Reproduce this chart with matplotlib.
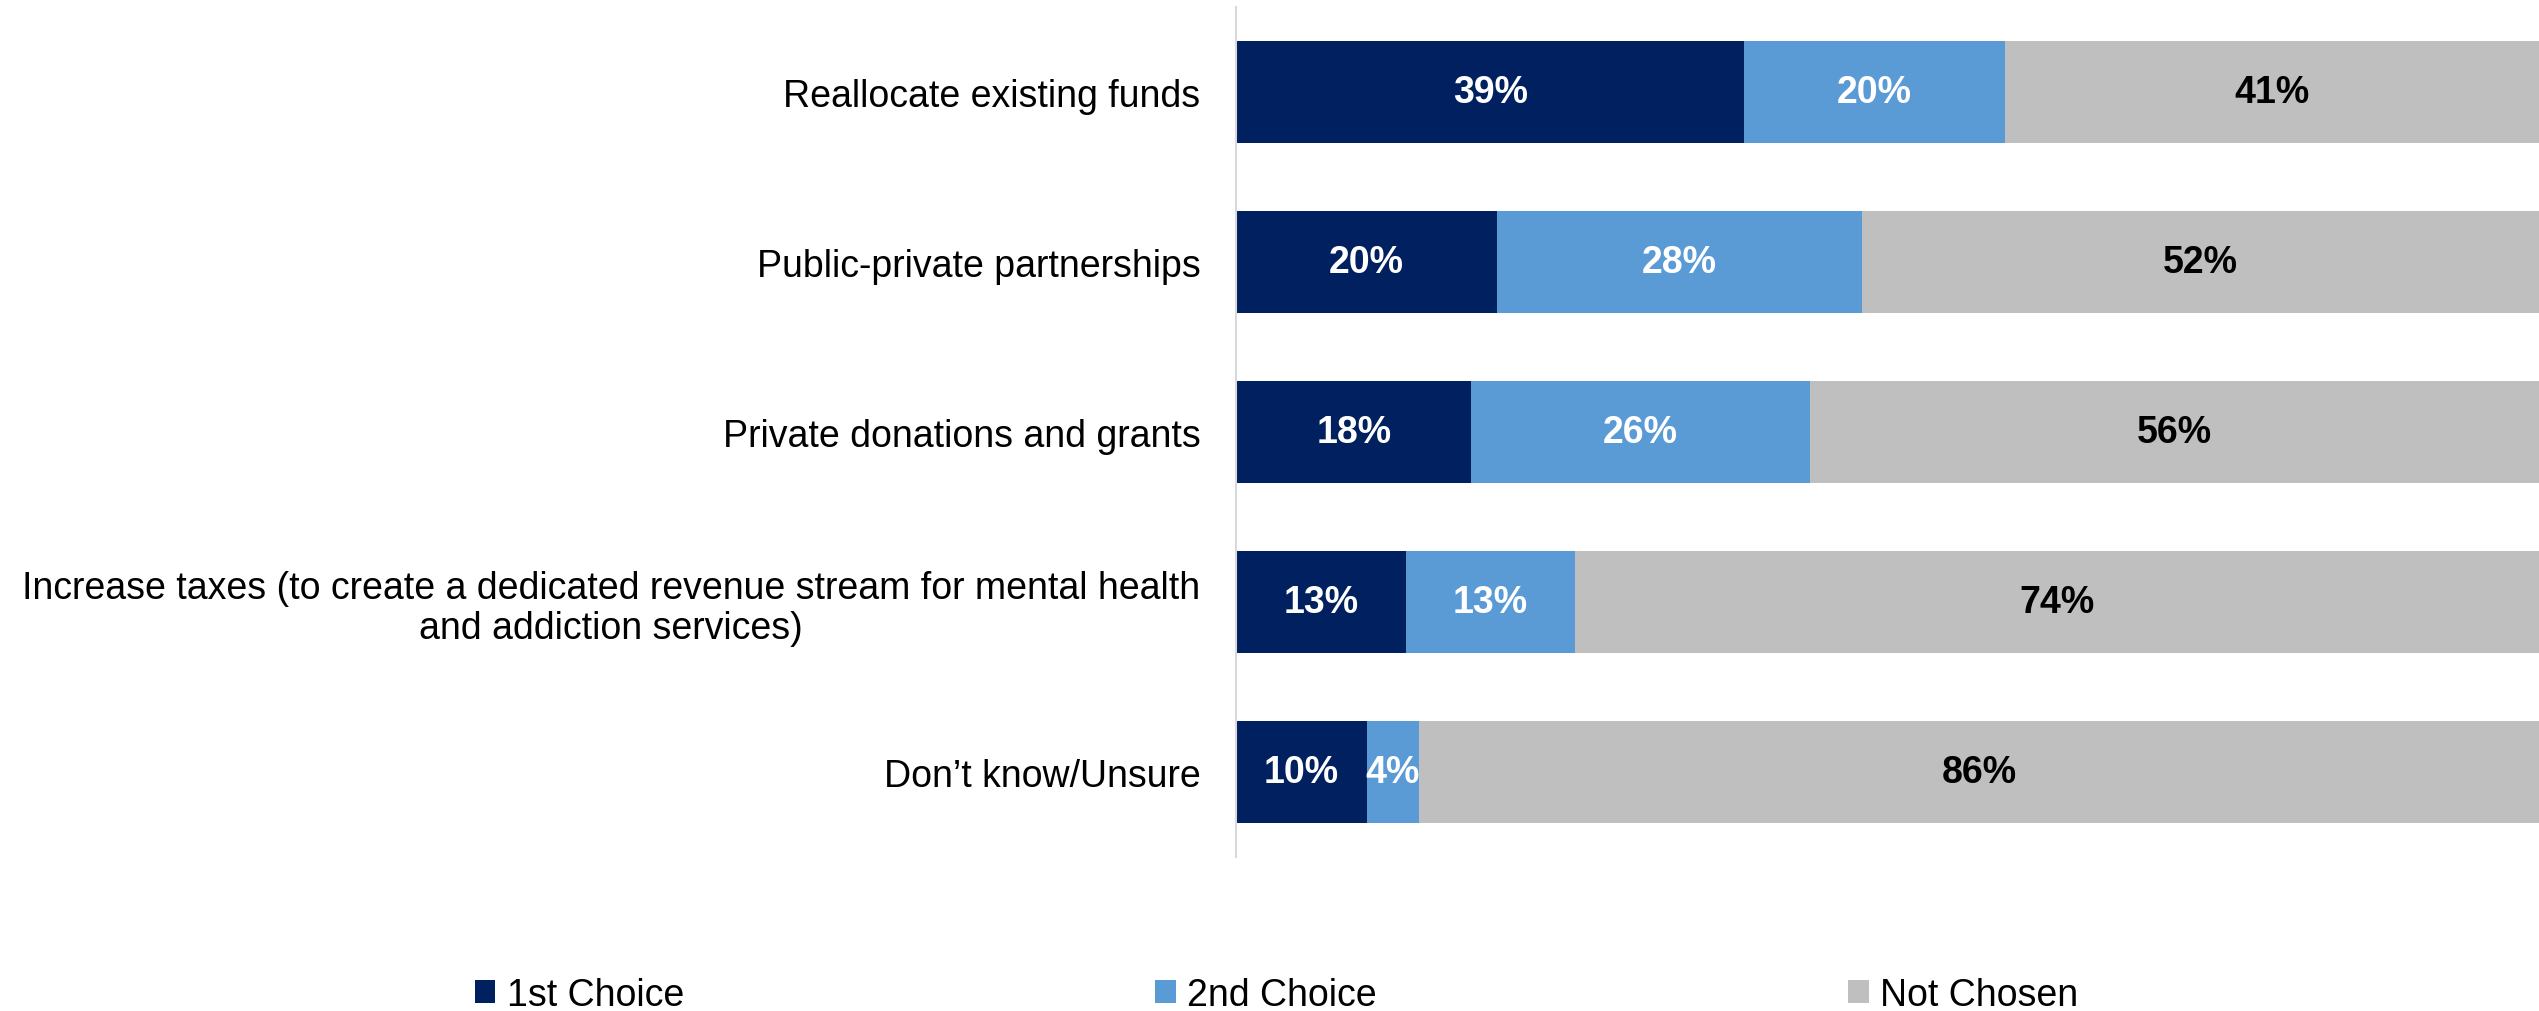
import matplotlib
matplotlib.use("Agg")
import matplotlib.pyplot as plt
from matplotlib.patches import Patch
import numpy as np

plt.rcParams['font.family'] = ['Liberation Sans', 'DejaVu Sans']

categories = [
    "Reallocate existing funds",
    "Public-private partnerships",
    "Private donations and grants",
    "Increase taxes (to create a dedicated revenue stream for mental health\nand addiction services)",
    "Don\u2019t know/Unsure",
]
first_choice = [39, 20, 18, 13, 10]
second_choice = [20, 28, 26, 13, 4]
not_chosen = [41, 52, 56, 74, 86]
series_names = ["1st Choice", "2nd Choice", "Not Chosen"]
colors = ["#002060", "#5B9BD5", "#BFBFBF"]
text_colors = ["white", "white", "black"]

fig = plt.figure(figsize=(25.39, 10.12), dpi=100)
ax = fig.add_axes([0.487, 0.152, 0.513, 0.840])

y = np.arange(len(categories))
left = np.zeros(len(categories))
for vals, col, tcol in zip([first_choice, second_choice, not_chosen], colors, text_colors):
    vals = np.array(vals, dtype=float)
    ax.barh(y, vals, left=left, height=0.6, color=col, edgecolor='none')
    for yi, v, l in zip(y, vals, left):
        ax.text(l + v / 2, yi, f"{int(v)}%", ha='center', va='center',
                color=tcol, fontsize=27, fontweight='bold')
    left += vals

ax.set_xlim(0, 100)
ax.set_ylim(len(categories) - 0.5, -0.5)
ax.set_yticks(y)
ax.set_yticklabels(categories, fontsize=27, multialignment='center', linespacing=1.15)
ax.tick_params(axis='y', length=0, pad=26)
ax.set_xticks([])
for s in ['top', 'right', 'bottom']:
    ax.spines[s].set_visible(False)
ax.spines['left'].set_color('#D9D9D9')
ax.spines['left'].set_linewidth(1.5)

positions = [0.187, 0.455, 0.728]
for name, col, xpos in zip(series_names, colors, positions):
    fig.legend(handles=[Patch(facecolor=col, edgecolor='none', label=name)],
               loc='center left', bbox_to_anchor=(xpos, 0.016),
               frameon=False, fontsize=27, handlelength=0.55, handleheight=0.6,
               handletextpad=0.3, borderaxespad=0, borderpad=0)

fig.savefig("out.png", dpi=100)
